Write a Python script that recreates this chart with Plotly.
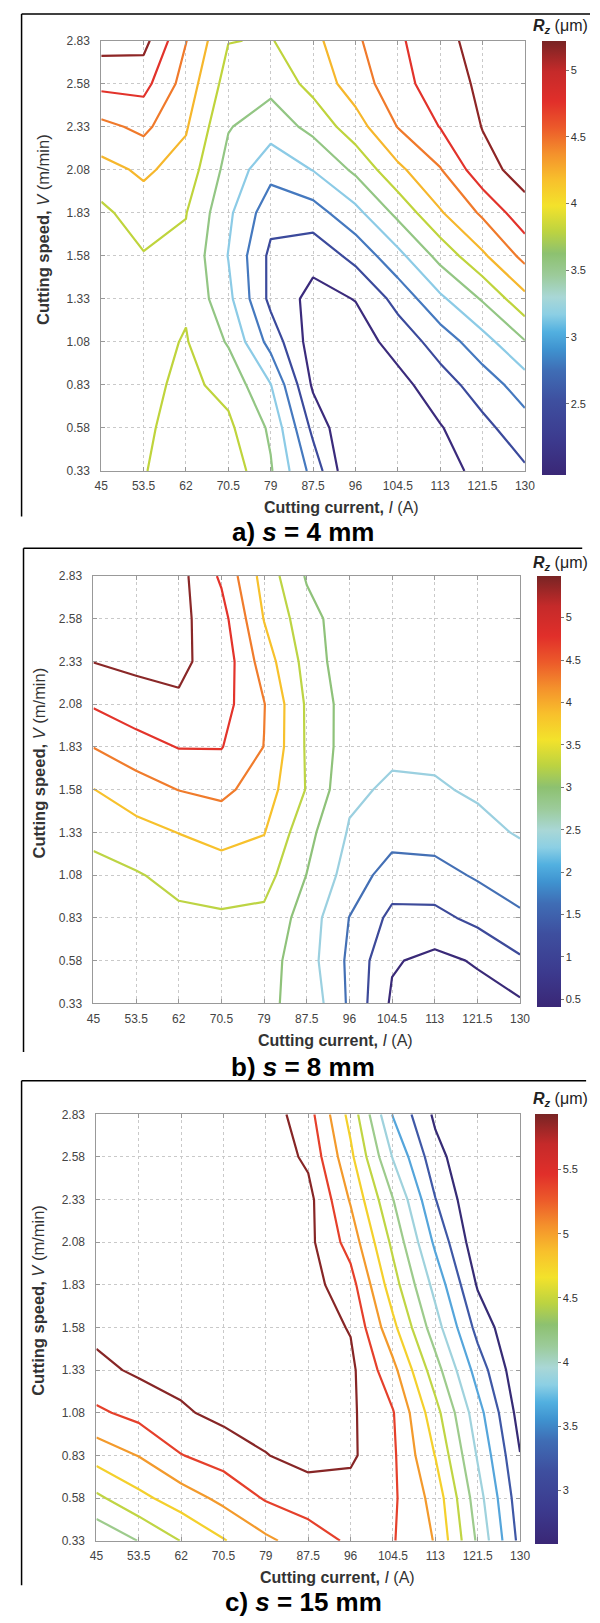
import plotly.graph_objects as go

# ---------------- data ----------------
current = [45, 53.5, 62, 70.5, 79, 87.5, 96, 104.5, 113, 121.5, 130]
speed = [0.33, 0.58, 0.83, 1.08, 1.33, 1.58, 1.83, 2.08, 2.33, 2.58, 2.83]
current_ticks = ["45", "53.5", "62", "70.5", "79", "87.5", "96", "104.5", "113", "121.5", "130"]
speed_ticks = ["0.33", "0.58", "0.83", "1.08", "1.33", "1.58", "1.83", "2.08", "2.33", "2.58", "2.83"]

# Rz (um), rows = cutting speed (0.33 -> 2.83), columns = cutting current (45 -> 130)
rz_4mm = [
    [3.72, 3.89, 4.00, 4.10, 3.63, 2.89, 2.05, 1.98, 2.20, 2.55, 2.66],
    [3.70, 3.86, 4.00, 3.96, 3.55, 2.62, 2.05, 2.10, 2.38, 2.62, 2.87],
    [3.70, 3.82, 3.97, 3.81, 3.31, 2.35, 2.12, 2.30, 2.57, 2.84, 3.15],
    [3.72, 3.80, 3.92, 3.57, 2.89, 2.25, 2.25, 2.52, 2.83, 3.18, 3.58],
    [3.75, 3.82, 3.86, 3.38, 2.62, 2.30, 2.41, 2.80, 3.24, 3.63, 4.12],
    [3.78, 3.88, 3.84, 3.29, 2.63, 2.50, 2.79, 3.21, 3.70, 4.15, 4.59],
    [3.83, 4.06, 3.91, 3.36, 2.81, 2.87, 3.21, 3.68, 4.17, 4.55, 5.00],
    [4.10, 4.25, 4.08, 3.49, 3.10, 3.31, 3.66, 4.13, 4.48, 5.00, 5.21],
    [4.42, 4.57, 4.23, 3.62, 3.43, 3.69, 4.07, 4.51, 4.81, 5.11, 5.17],
    [4.88, 4.90, 4.37, 3.77, 3.69, 4.00, 4.35, 4.68, 4.97, 5.15, 5.20],
    [5.22, 5.20, 4.51, 3.91, 3.88, 4.12, 4.45, 4.75, 5.02, 5.20, 5.22],
]
rz_8mm = [
    [2.82, 2.82, 2.92, 2.93, 2.82, 2.63, 1.67, 0.67, 0.41, 0.55, 0.68],
    [2.87, 2.88, 3.00, 3.02, 2.95, 2.48, 1.65, 0.80, 0.62, 0.80, 1.18],
    [2.95, 3.00, 3.15, 3.18, 3.13, 2.53, 1.74, 1.12, 1.11, 1.38, 1.67],
    [3.07, 3.21, 3.40, 3.52, 3.45, 2.74, 2.03, 1.52, 1.57, 1.81, 2.01],
    [3.39, 3.58, 3.76, 3.92, 3.77, 2.91, 2.20, 1.95, 1.97, 2.12, 2.29],
    [3.74, 4.02, 4.26, 4.37, 4.01, 3.22, 2.35, 2.17, 2.20, 2.31, 2.42],
    [4.26, 4.54, 4.77, 4.77, 4.24, 3.19, 2.49, 2.35, 2.35, 2.38, 2.40],
    [4.80, 5.05, 5.20, 4.95, 4.27, 3.18, 2.50, 2.45, 2.42, 2.42, 2.40],
    [5.26, 5.35, 5.33, 5.08, 4.01, 3.07, 2.40, 2.42, 2.45, 2.45, 2.42],
    [5.38, 5.42, 5.38, 4.95, 3.73, 2.94, 2.45, 2.45, 2.45, 2.45, 2.42],
    [5.45, 5.49, 5.42, 4.67, 3.56, 2.70, 2.55, 2.50, 2.50, 2.50, 2.45],
]
rz_15mm = [
    [3.95, 4.21, 4.51, 4.78, 5.04, 5.25, 5.45, 5.42, 5.08, 4.15, 3.21],
    [4.44, 4.72, 4.95, 5.18, 5.43, 5.55, 5.58, 5.45, 4.99, 4.03, 3.12],
    [4.92, 5.11, 5.39, 5.53, 5.69, 5.80, 5.75, 5.45, 4.79, 3.87, 3.01],
    [5.35, 5.49, 5.66, 5.78, 5.82, 5.85, 5.75, 5.42, 4.61, 3.72, 2.88],
    [5.62, 5.75, 5.80, 5.85, 5.88, 5.86, 5.77, 5.19, 4.33, 3.47, 2.77],
    [5.78, 5.85, 5.85, 5.90, 5.90, 5.85, 5.68, 4.88, 4.03, 3.20, 2.70],
    [5.83, 5.88, 5.88, 5.92, 5.92, 5.82, 5.52, 4.63, 3.80, 2.97, 2.70],
    [5.86, 5.90, 5.90, 5.93, 5.93, 5.78, 5.28, 4.43, 3.54, 2.80, 2.66],
    [5.88, 5.91, 5.91, 5.93, 5.92, 5.80, 5.07, 4.21, 3.31, 2.72, 2.62],
    [5.89, 5.92, 5.92, 5.92, 5.90, 5.64, 4.87, 3.88, 3.11, 2.70, 2.62],
    [5.90, 5.92, 5.92, 5.90, 5.87, 5.52, 4.70, 3.58, 2.94, 2.75, 2.60],
]

levels_4mm = (2.4, 5.1, 0.3)
levels_8mm = (0.75, 5.25, 0.5)
levels_15mm = (3.0, 5.7, 0.3)
range_4mm = (1.97, 5.22)
range_8mm = (0.41, 5.49)
range_15mm = (2.58, 5.93)
cbar_ticks_4mm = [2.5, 3, 3.5, 4, 4.5, 5]
cbar_ticks_8mm = [0.5, 1, 1.5, 2, 2.5, 3, 3.5, 4, 4.5, 5]
cbar_ticks_15mm = [3, 3.5, 4, 4.5, 5, 5.5]
captions = ["a) <i>s</i> = 4 mm", "b) <i>s</i> = 8 mm", "c) <i>s</i> = 15 mm"]

# ---------------- style ----------------
W, H = 600, 1623
FONT = "Liberation Sans, Arial, sans-serif"
colorscale = [
    [0.00, "#3a2776"], [0.08, "#3c3a8e"], [0.17, "#3e4f9f"], [0.24, "#3f6db5"],
    [0.29, "#3f93d0"], [0.33, "#52b0e0"], [0.37, "#8ccfe4"], [0.41, "#a9d7d6"],
    [0.46, "#9ccb9a"], [0.51, "#8dc170"], [0.56, "#bcd341"], [0.62, "#f3e22b"],
    [0.68, "#f8c02c"], [0.74, "#f4912c"], [0.80, "#ec5a2a"], [0.86, "#e12f2a"],
    [0.93, "#c52a2a"], [1.00, "#782424"],
]
# line colour of each contour level, lowest level first (as seen in the figure)
line_colors_4mm = ["#3b2b7c", "#3b4a9c", "#4579bf", "#8ccbe6", "#93c684",
                   "#bfd43c", "#f6b72c", "#f07a2b", "#e2332b", "#8e2626"]
line_colors_8mm = ["#3a2a78", "#3d4a9a", "#4470b5", "#9bd0e0", "#8fc27a",
                   "#bdd444", "#f7c12c", "#f07c2c", "#e3342b", "#8a2828"]
line_colors_15mm = ["#372c76", "#3f58a6", "#55a5db", "#9fd2dd", "#9dcb8c",
                    "#c0d544", "#f4d02c", "#f39a2c", "#e5402b", "#872626"]


def line_scale(cols):
    n = len(cols)
    return [[q / (n - 1), c] for q, c in enumerate(cols)]


panels = [
    dict(z=rz_4mm, lev=levels_4mm, rng=range_4mm, cbt=cbar_ticks_4mm, cap=captions[0], lc=line_colors_4mm,
         px=(97, 533), py=(34, 468), cbx=(551, 575), cbty=20, xt=(344, 505), yt=(37, 224),
         capy=530, ftop=7, fleft=15, fright=600, fbot=514),
    dict(z=rz_8mm, lev=levels_8mm, rng=range_8mm, cbt=cbar_ticks_8mm, cap=captions[1], lc=line_colors_8mm,
         px=(89, 528), py=(574, 1005), cbx=(545, 569), cbty=561, xt=(338, 1042), yt=(33, 763),
         capy=1069, ftop=546, fleft=17, fright=592, fbot=1054),
    dict(z=rz_15mm, lev=levels_15mm, rng=range_15mm, cbt=cbar_ticks_15mm, cap=captions[2], lc=line_colors_15mm,
         px=(92, 528), py=(1117, 1547), cbx=(543, 566), cbty=1102, xt=(340, 1584), yt=(32, 1305),
         capy=1609, ftop=1083, fleft=15, fright=596, fbot=1592),
]


def fmt(v):
    return ("%g" % v)


fig = go.Figure()
shapes = []
annotations = []
layout_axes = {}
for k, p in enumerate(panels, start=1):
    sfx = "" if k == 1 else str(k)
    xa, ya = "x" + sfx, "y" + sfx
    zmin, zmax = p["rng"]
    s, e, st = p["lev"]
    fig.add_trace(go.Contour(
        x=current, y=speed, z=p["z"], xaxis=xa, yaxis=ya,
        autocontour=False,
        contours=dict(start=s, end=e + st * 0.05, size=st, coloring="lines", showlabels=False),
        line=dict(width=2.2, smoothing=0),
        colorscale=line_scale(p["lc"]),
        showscale=False, hoverinfo="skip",
    ))
    fig.add_trace(go.Scatter(
        x=[current[0]], y=[speed[0]], xaxis=xa, yaxis=ya, mode="markers",
        marker=dict(size=1, opacity=0, color=[zmin], colorscale=colorscale, cmin=zmin, cmax=zmax,
                    showscale=True,
                    colorbar=dict(
                        x=p["cbx"][0] / W, xanchor="left", y=1 - p["py"][0] / H, yanchor="top",
                        len=p["py"][1] - p["py"][0], lenmode="pixels",
                        thickness=p["cbx"][1] - p["cbx"][0], thicknessmode="pixels",
                        xpad=0, ypad=0, outlinewidth=0,
                        ticks="outside", ticklen=3, tickcolor="#777",
                        tickvals=p["cbt"], ticktext=[fmt(v) for v in p["cbt"]],
                        tickfont=dict(family=FONT, size=11, color="#333"),
                    )),
        hoverinfo="skip", showlegend=False,
    ))
    common = dict(ticks="inside", ticklen=4, tickcolor="#999", showline=True, linecolor="#999",
                  linewidth=1, mirror="ticks", showgrid=True, gridcolor="#c9c9c9", griddash="dot",
                  gridwidth=1, zeroline=False, tickfont=dict(family=FONT, size=12, color="#444"))
    layout_axes["xaxis" + sfx] = dict(
        domain=[p["px"][0] / W, p["px"][1] / W], anchor=ya, range=[current[0], current[-1]],
        tickvals=current, ticktext=current_ticks, ticklabelstandoff=4, **common)
    layout_axes["yaxis" + sfx] = dict(
        domain=[1 - p["py"][1] / H, 1 - p["py"][0] / H], anchor=xa, range=[speed[0], speed[-1]],
        tickvals=speed, ticktext=speed_ticks, ticklabelstandoff=8, **common)

    # panel frames
    shapes.append(dict(type="line", xref="paper", yref="paper", x0=p["fleft"] / W, x1=p["fright"] / W,
                       y0=1 - p["ftop"] / H, y1=1 - p["ftop"] / H, line=dict(color="black", width=1.5)))
    shapes.append(dict(type="line", xref="paper", yref="paper", x0=p["fleft"] / W, x1=p["fleft"] / W,
                       y0=1 - p["ftop"] / H, y1=1 - p["fbot"] / H, line=dict(color="black", width=1.5)))

    # texts
    annotations.append(dict(xref="paper", yref="paper", x=1.0, y=1 - p["cbty"] / H,
                            xanchor="right", yanchor="middle", showarrow=False,
                            text="<b><i>R</i></b><sub><b><i>z</i></b></sub> (μm)",
                            font=dict(family=FONT, size=16, color="#222")))
    annotations.append(dict(xref="paper", yref="paper", x=p["xt"][0] / W, y=1 - p["xt"][1] / H,
                            xanchor="center", yanchor="middle", showarrow=False,
                            text="<b>Cutting current,</b> <i>I</i> (A)",
                            font=dict(family=FONT, size=16, color="#333")))
    annotations.append(dict(xref="paper", yref="paper", x=p["yt"][0] / W, y=1 - p["yt"][1] / H,
                            xanchor="center", yanchor="middle", showarrow=False, textangle=-90,
                            text="<b>Cutting speed,</b> <i>V</i> (m/min)",
                            font=dict(family=FONT, size=16.5, color="#333")))
    annotations.append(dict(xref="paper", yref="paper", x=305 / W, y=1 - p["capy"] / H,
                            xanchor="center", yanchor="middle", showarrow=False,
                            text="<b>" + p["cap"] + "</b>",
                            font=dict(family=FONT, size=26, color="black")))

fig.update_layout(
    width=W, height=H, margin=dict(l=0, r=0, t=0, b=0),
    paper_bgcolor="white", plot_bgcolor="white", showlegend=False,
    shapes=shapes, annotations=annotations, **layout_axes,
)
fig.write_html("out.html", config={"displayModeBar": False},
               post_script="document.body.style.margin='0px';document.body.style.overflow='hidden';")
